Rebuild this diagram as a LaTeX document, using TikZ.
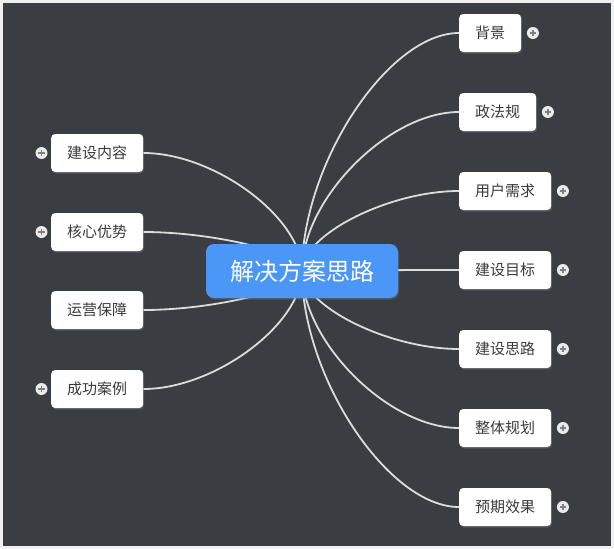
\documentclass[tikz,border=0pt]{standalone}
\usepackage{fontspec}
\newfontfamily\cjk{Noto Sans CJK SC}
\usetikzlibrary{calc,shadows}
\pgfdeclarelayer{bg}
\pgfdeclarelayer{edges}
\pgfsetlayers{bg,edges,main}
\definecolor{canvas}{HTML}{3A3D42}
\definecolor{frame}{HTML}{F0F0F0}
\definecolor{rootblue}{HTML}{4A97F8}
\definecolor{txt}{HTML}{3A3A3A}
\definecolor{edgecol}{HTML}{DCDCDC}
\definecolor{plusfill}{HTML}{EAEAEA}
\definecolor{plusmark}{HTML}{808080}
\tikzset{
  topic/.style={fill=white, rounded corners=4pt, minimum height=38pt, inner xsep=16pt, inner ysep=0pt,
    text=txt, font=\cjk\fontsize{15pt}{18pt}\selectfont,
    drop shadow={shadow xshift=1pt, shadow yshift=-1.5pt, opacity=0.35}},
  rootbox/.style={fill=rootblue, rounded corners=8pt, minimum width=192pt, minimum height=54pt,
    text=white, font=\cjk\fontsize{24pt}{28pt}\selectfont,
    drop shadow={shadow xshift=1pt, shadow yshift=-1.5pt, opacity=0.35}},
  conn/.style={draw=edgecol, line width=1.8pt},
  plusc/.style={circle, fill=plusfill, minimum size=12pt, inner sep=0pt,
    path picture={\draw[plusmark, line width=1.8pt] ($(path picture bounding box.center)+(-3.2pt,0)$) -- ($(path picture bounding box.center)+(3.2pt,0)$);
                  \draw[plusmark, line width=1.8pt] ($(path picture bounding box.center)+(0,-3.2pt)$) -- ($(path picture bounding box.center)+(0,3.2pt)$);}}
}
\begin{document}
\begin{tikzpicture}[x=1pt, y=-1pt]
\useasboundingbox (0,0) rectangle (614,549);
\begin{pgfonlayer}{bg}
  \fill[frame] (0,0) rectangle (614,549);
  \fill[canvas] (3,3) rectangle (611,546);
\end{pgfonlayer}

\node[rootbox] (root) at (302,271) {解决方案思路};

% right topics
\node[topic, anchor=west] (r1) at (459,33) {背景};
\node[topic, anchor=west] (r2) at (459,112) {政法规};
\node[topic, anchor=west] (r3) at (459,191) {用户需求};
\node[topic, anchor=west] (r4) at (459,270) {建设目标};
\node[topic, anchor=west] (r5) at (459,349) {建设思路};
\node[topic, anchor=west] (r6) at (459,428) {整体规划};
\node[topic, anchor=west] (r7) at (459,507) {预期效果};

% left topics
\node[topic, anchor=west] (l1) at (51,153) {建设内容};
\node[topic, anchor=west] (l2) at (51,232) {核心优势};
\node[topic, anchor=west] (l3) at (51,310) {运营保障};
\node[topic, anchor=west] (l4) at (51,389) {成功案例};

% expander icons
\foreach \n in {r1,r2,r3,r4,r5,r6,r7}
  \node[plusc] (p\n) at ($(\n.east)+(11.5,0)$) {};
\foreach \n in {l1,l2,l4}
  \node[plusc] (p\n) at ($(\n.west)+(-9.5,0)$) {};

% connectors
\begin{pgfonlayer}{edges}
\foreach \n in {r1,r2,r3,r4,r5,r6,r7}
  \draw[conn] (root.center) .. controls ($(root.center)!0.45!(root.center|-\n.west)$) and ($(\n.west)!0.45!(root.center|-\n.west)$) .. (\n.west);
\foreach \n in {l1,l2,l3,l4}
  \draw[conn] (root.center) .. controls ($(root.center)!0.45!(root.center|-\n.east)$) and ($(\n.east)!0.45!(root.center|-\n.east)$) .. (\n.east);
\end{pgfonlayer}
\end{tikzpicture}
\end{document}
